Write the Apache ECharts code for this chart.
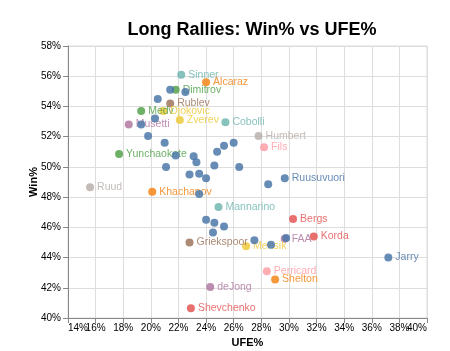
<!DOCTYPE html>
<html>
<head>
<meta charset="utf-8">
<script src="https://cdn.jsdelivr.net/npm/echarts@6/dist/echarts.min.js"></script>
<style>
  html, body { margin: 0; padding: 0; background: #fff; }
  #chart { width: 450px; height: 351px; }
</style>
</head>
<body>
<div id="chart"></div>
<script>
// Labelled players: UFE% (x) and Win% (y) in long rallies
const playerNames = [
  "Sinner", "Alcaraz", "Dimitrov", "Rublev", "Medv", "Djokovic", "Musetti",
  "Zverev", "Cobolli", "Humbert", "Fils", "Yunchaokete", "Ruud", "Khachanov",
  "Ruusuvuori", "Mannarino", "Bergs", "Griekspoor", "Mensik", "FAA", "Korda",
  "Jarry", "Perricard", "Shelton", "deJong", "Shevchenko"
];
const playerUfe = [
  22.2, 24.0, 21.8, 21.4, 19.3, 20.9, 18.4,
  22.1, 25.4, 27.8, 28.2, 17.7, 15.6, 20.1,
  29.7, 24.9, 30.3, 22.8, 26.9, 29.7, 31.8,
  37.2, 28.4, 29.0, 24.3, 22.9
];
const playerWin = [
  56.1, 55.6, 55.1, 54.2, 53.7, 53.7, 52.8,
  53.1, 52.95, 52.05, 51.3, 50.85, 48.65, 48.35,
  49.25, 47.35, 46.55, 45.0, 44.75, 45.25, 45.4,
  44.0, 43.1, 42.55, 42.05, 40.65
];

// Unlabelled players (all drawn in the first palette colour)
const otherUfe = [
  21.4, 22.5, 20.5, 20.3, 19.3, 19.8, 21.0, 21.8, 21.1, 23.1,
  23.3, 24.8, 25.3, 26.0, 24.6, 26.4, 22.8, 23.5, 24.0, 23.5,
  28.5, 24.0, 24.6, 25.3, 24.5, 27.5, 28.7, 29.8
];
const otherWin = [
  55.1, 54.95, 54.5, 53.2, 52.8, 52.05, 51.6, 50.75, 50.0, 50.7,
  50.3, 51.0, 51.4, 51.6, 50.1, 50.0, 49.5, 49.55, 49.25, 48.2,
  48.85, 46.5, 46.3, 46.05, 45.65, 45.15, 44.85, 45.3
];

// x domain ends (their labels sit flush with the plot edges)
const xMin = 14;
const xMax = 40;

// tableau10 colours by player
const palette = {
  blue: "#4c78a8", orange: "#f58518", red: "#e45756", teal: "#72b7b2",
  green: "#54a24b", yellow: "#eeca3b", purple: "#b279a2", pink: "#ff9da6",
  brown: "#9d755d", gray: "#bab0ac"
};
const playerColor = {
  Sinner: "teal", Alcaraz: "orange", Dimitrov: "green", Rublev: "brown",
  Medv: "green", Djokovic: "yellow", Musetti: "purple", Zverev: "yellow",
  Cobolli: "teal", Humbert: "gray", Fils: "pink", Yunchaokete: "green",
  Ruud: "gray", Khachanov: "orange", Ruusuvuori: "blue", Mannarino: "teal",
  Bergs: "red", Griekspoor: "brown", Mensik: "yellow", FAA: "purple",
  Korda: "red", Jarry: "blue", Perricard: "pink", Shelton: "orange",
  deJong: "purple", Shevchenko: "red"
};

const font = "Liberation Sans, Arial, sans-serif";
const pct = (v) => v + "%";

const labeled = playerNames.map((name, i) => {
  const c = palette[playerColor[name]];
  return {
    name: name,
    value: [playerUfe[i], playerWin[i]],
    itemStyle: { color: c },
    label: { color: c },
  };
});

const others = otherUfe.map((u, i) => [u, otherWin[i]]);

const tickLabel = { fontFamily: font, fontSize: 10, color: "#000", margin: 5 };

const option = {
  animation: false,
  title: {
    text: "Long Rallies: Win% vs UFE%",
    left: 247,
    top: 16,
    textAlign: "center",
    textStyle: { fontFamily: font, fontSize: 18, fontWeight: "bold", color: "#000" },
  },
  grid: {
    left: 68, right: 23, top: 46, bottom: 33,
    outerBoundsMode: "none",
    show: true, borderColor: "#ddd", borderWidth: 1,
  },
  xAxis: [
    {
      type: "value",
      min: xMin,
      max: xMax,
      interval: 2,
      name: "UFE%",
      nameLocation: "middle",
      nameGap: 19,
      nameMoveOverlap: false,
      nameTextStyle: { fontFamily: font, fontSize: 11, fontWeight: "bold", color: "#000" },
      axisLine: { lineStyle: { color: "#888" } },
      axisTick: { show: true, length: 5, lineStyle: { color: "#888" } },
      axisLabel: {
        ...tickLabel,
        formatter: (v) => (v === xMin || v === xMax ? "" : pct(v)),
      },
      splitLine: { lineStyle: { color: "#ddd" } },
    },
    {
      // overlay axis carrying only the flush end labels
      type: "value",
      position: "bottom",
      min: xMin,
      max: xMax,
      interval: 2,
      axisLine: { show: false },
      axisTick: { show: false },
      splitLine: { show: false },
      axisLabel: {
        ...tickLabel,
        showMinLabel: true,
        showMaxLabel: true,
        alignMinLabel: "left",
        alignMaxLabel: "right",
        formatter: (v) => (v === xMin || v === xMax ? pct(v) : ""),
      },
    },
  ],
  yAxis: {
    type: "value",
    min: 40,
    max: 58,
    interval: 2,
    name: "Win%",
    nameLocation: "middle",
    nameGap: 29,
    nameMoveOverlap: false,
    nameTextStyle: { fontFamily: font, fontSize: 11, fontWeight: "bold", color: "#000" },
    axisLine: { show: true, lineStyle: { color: "#888" } },
    axisTick: { show: true, length: 5, lineStyle: { color: "#888" } },
    axisLabel: {
      formatter: pct, fontFamily: font, fontSize: 10, color: "#000", margin: 7,
      showMinLabel: true, showMaxLabel: true,
    },
    splitLine: { lineStyle: { color: "#ddd" } },
  },
  series: [
    {
      name: "Others",
      type: "scatter",
      data: others,
      symbolSize: 8,
      itemStyle: { color: palette.blue, opacity: 0.85 },
      z: 3,
    },
    {
      name: "Players",
      type: "scatter",
      data: labeled,
      symbolSize: 8,
      itemStyle: { opacity: 0.85 },
      label: {
        show: true,
        position: "right",
        distance: 3,
        formatter: "{b}",
        fontFamily: font,
        fontSize: 10.5,
      },
      labelLayout: { hideOverlap: false },
      z: 2,
    },
  ],
};

const chart = echarts.init(document.getElementById("chart"), null, { renderer: "canvas" });
chart.setOption(option);
</script>
</body>
</html>
